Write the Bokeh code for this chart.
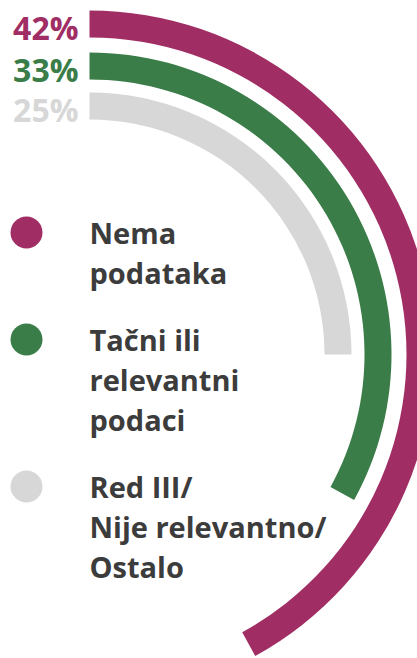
import math
from bokeh.plotting import figure
from bokeh.models import Range1d
from bokeh.core.properties import value
from bokeh.embed import file_html
from bokeh.resources import INLINE

# ---- data ----
categories = ["Nema podataka", "Tačni ili relevantni podaci", "Red III/ Nije relevantno/ Ostalo"]
legend_lines = [["Nema", "podataka"], ["Tačni ili", "relevantni", "podaci"], ["Red III/", "Nije relevantno/", "Ostalo"]]
values = [42, 33, 25]
colors = ["#A02D64", "#3A7D48", "#D7D7D7"]

W, H = 417, 658
p = figure(width=W, height=H, output_backend="svg", toolbar_location=None,
           x_range=Range1d(0, W), y_range=Range1d(0, H), min_border=0)
p.axis.visible = False
p.grid.visible = False
p.outline_line_color = None
p.background_fill_color = "white"

def Y(y):
    return H - y

cx, cy = 89, 354
outer_r = [344, 302, 262]
thick = 27
for i, v in enumerate(values):
    frac = v / 100.0
    p.annular_wedge(x=cx, y=Y(cy), inner_radius=outer_r[i] - thick, outer_radius=outer_r[i],
                    start_angle=math.pi / 2, end_angle=math.pi / 2 - 2 * math.pi * frac,
                    direction="clock", color=colors[i], line_color=None)
    # percentage label aligned with ring
    p.text(x=[78], y=[Y(cy - outer_r[i] + thick / 2 + 3)], text=[f"{v}%"],
           text_font=value("Open Sans"), text_font_style="bold", text_font_size="32px",
           text_color=colors[i], text_align="right", text_baseline="middle")

# legend
line_h = 40
gap = 27
y0 = 232
for i, lines in enumerate(legend_lines):
    p.scatter(x=[26], y=[Y(y0)], size=32, marker="circle", color=colors[i], line_color=None)
    for j, ln in enumerate(lines):
        p.text(x=[89], y=[Y(y0 + j * line_h)], text=[ln],
               text_font=value("Open Sans"), text_font_style="bold", text_font_size="29px",
               text_color="#3C3C3C", text_align="left", text_baseline="middle")
    y0 += len(lines) * line_h + gap

open("out.html", "w").write(file_html(p, INLINE))
